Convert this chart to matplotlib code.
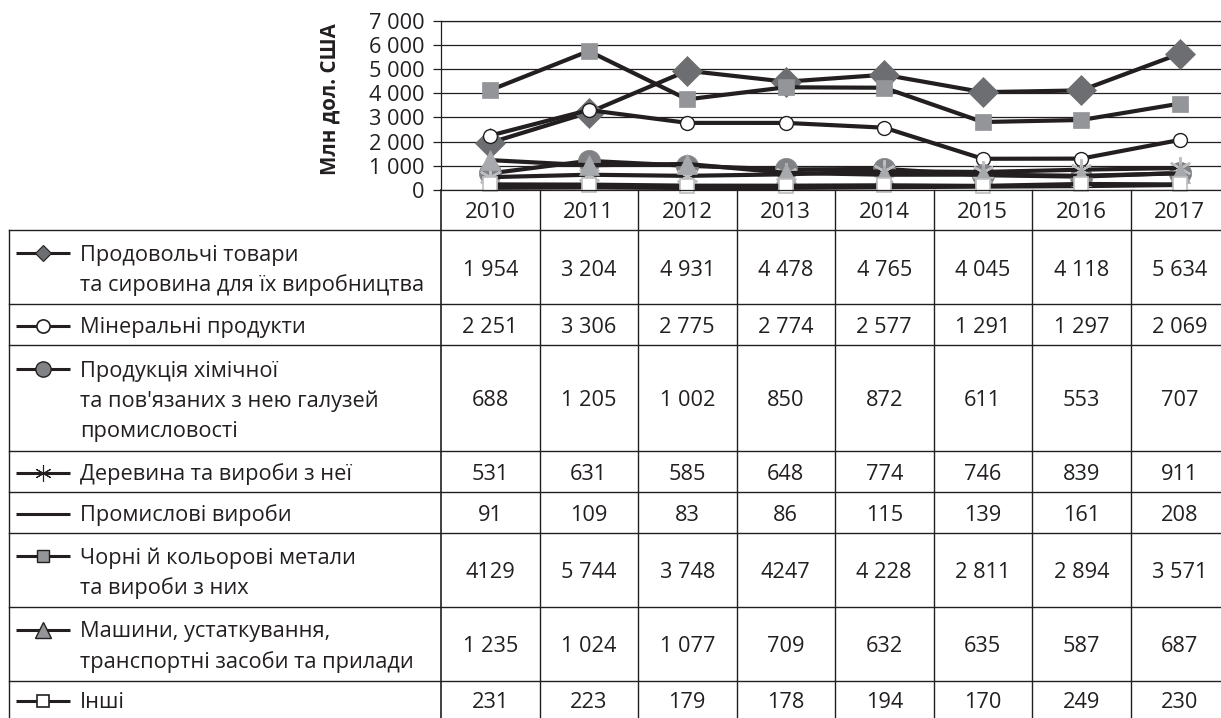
import matplotlib
matplotlib.use("Agg")
import matplotlib.pyplot as plt
from matplotlib.ticker import FuncFormatter

plt.rcParams['font.family'] = ['Open Sans', 'DejaVu Sans']

# ---------------- data ----------------
years = ["2010", "2011", "2012", "2013", "2014", "2015", "2016", "2017"]
categories = [
    "Продовольчі товари\nта сировина для їх виробництва",
    "Мінеральні продукти",
    "Продукція хімічної\nта пов'язаних з нею галузей\nпромисловості",
    "Деревина та вироби з неї",
    "Промислові вироби",
    "Чорні й кольорові метали\nта вироби з них",
    "Машини, устаткування,\nтранспортні засоби та прилади",
    "Інші",
]
food = [1954, 3204, 4931, 4478, 4765, 4045, 4118, 5634]
mineral = [2251, 3306, 2775, 2774, 2577, 1291, 1297, 2069]
chemical = [688, 1205, 1002, 850, 872, 611, 553, 707]
wood = [531, 631, 585, 648, 774, 746, 839, 911]
industrial = [91, 109, 83, 86, 115, 139, 161, 208]
metals = [4129, 5744, 3748, 4247, 4228, 2811, 2894, 3571]
machines = [1235, 1024, 1077, 709, 632, 635, 587, 687]
other = [231, 223, 179, 178, 194, 170, 249, 230]
yticks = [0, 1000, 2000, 3000, 4000, 5000, 6000, 7000]
y_label = "Млн дол. США"
# cells printed without thousands separator in the source table
no_sep_cells = {(5, 0), (5, 3)}

series = [food, mineral, chemical, wood, industrial, metals, machines, other]

# ---------------- styles ----------------
INK = '#231f20'
chart_styles = [
    dict(marker='D', ms=15, mfc='#6d6e71', mec='#6d6e71', mew=0.5),
    dict(marker='o', ms=10, mfc='white', mec=INK, mew=1.0),
    dict(marker='o', ms=16, mfc='#808285', mec='#808285', mew=0.5),
    dict(marker=(6, 2, 0), ms=16, mec='#bcbec0', mew=1.6),
    dict(marker=None),
    dict(marker='s', ms=11, mfc='#939598', mec='#939598', mew=0.5),
    dict(marker='^', ms=14, mfc='#a7a9ac', mec='#a7a9ac', mew=0.5),
    dict(marker='s', ms=10, mfc='white', mec='#bcbec0', mew=1.2),
]
legend_styles = [
    dict(marker='D', ms=8, mfc='#6d6e71', mec=INK, mew=0.8),
    dict(marker='o', ms=9.5, mfc='white', mec=INK, mew=1.2),
    dict(marker='o', ms=11, mfc='#808285', mec=INK, mew=1.0),
    dict(marker=(6, 2, 0), ms=12, mec=INK, mew=0.8),
    dict(marker=None),
    dict(marker='s', ms=9, mfc='#939598', mec=INK, mew=1.0),
    dict(marker='^', ms=11, mfc='#939598', mec=INK, mew=1.0),
    dict(marker='s', ms=9, mfc='white', mec=INK, mew=1.2),
]

W, H = 1221, 718
fig = plt.figure(figsize=(W / 100, H / 100), dpi=100)

# layout in pixels
ax_left, ax_top, ax_bot = 441, 20.7, 190
col_w = 98.5
hdr_bot = 230
row_edges = [230, 304, 345, 451, 492, 533, 607, 681, 718]
tab_left = 9
FS = 15.7
TEXT_DY = 3

# ---------------- chart ----------------
ax = fig.add_axes([ax_left / W, (H - ax_bot) / H, (col_w * 8) / W, (ax_bot - ax_top) / H])
x = list(range(len(years)))
for vals, st in zip(series, chart_styles):
    ax.plot(x, vals, color=INK, lw=3, solid_joinstyle='round', clip_on=False, **st)
ax.set_xlim(-0.5, 7.5)
ax.set_ylim(0, 7000)
ax.set_yticks(yticks)
ax.yaxis.set_major_formatter(FuncFormatter(lambda v, p: f"{int(v):,}".replace(",", " ")))
ax.set_xticks([])
ax.grid(axis='y', color=INK, lw=0.9)
ax.set_axisbelow(True)
ax.tick_params(axis='y', direction='out', length=6, width=0.9, color=INK,
               labelsize=FS, labelcolor=INK, pad=6)
for s in ['left', 'top', 'bottom']:
    ax.spines[s].set_color(INK)
    ax.spines[s].set_linewidth(0.9)
ax.spines['right'].set_visible(False)

# ---------------- table overlay (pixel coords) ----------------
t = fig.add_axes([0, 0, 1, 1])
t.set_xlim(0, W)
t.set_ylim(H, 0)
t.axis('off')
t.patch.set_visible(False)

lw_t = 1.0
col_edges = [ax_left + col_w * k for k in range(9)]
for k, xe in enumerate(col_edges):
    t.plot([xe, xe], [ax_bot, H], color=INK, lw=lw_t if k else 1.2)
t.plot([tab_left, tab_left], [hdr_bot, H], color=INK, lw=lw_t)
for ye in row_edges[:-1]:
    t.plot([tab_left, W], [ye, ye], color=INK, lw=lw_t)

# year header
for i, yr in enumerate(years):
    t.text(ax_left + col_w * (i + 0.5), (ax_bot + hdr_bot) / 2 + 2, yr, ha='center', va='center',
           fontsize=16, color=INK)

# y label
t.text(330, 99, y_label, rotation=90, ha='center', va='center', fontsize=14.8,
       fontweight='bold', color=INK)

line_gap = 30
for r, (cat, vals, lst) in enumerate(zip(categories, series, legend_styles)):
    top, bot = row_edges[r], row_edges[r + 1]
    yc = (top + bot) / 2
    lines = cat.split("\n")
    n = len(lines)
    ys = [yc + (j - (n - 1) / 2) * line_gap for j in range(n)]
    for j, (ln, yy) in enumerate(zip(lines, ys)):
        t.text(80, yy + TEXT_DY, ln, ha='left', va='center', fontsize=FS, color=INK)
    # legend key
    t.plot([16, 70], [ys[0] + 1, ys[0] + 1], color=INK, lw=2.2, solid_capstyle='butt')
    if lst.get('marker') is not None:
        t.plot([43], [ys[0] + 1], color=INK, lw=0, **lst)
    # values
    for i, v in enumerate(vals):
        s = str(v) if (r, i) in no_sep_cells else f"{v:,}".replace(",", " ")
        t.text(ax_left + col_w * (i + 0.5), yc + TEXT_DY, s, ha='center', va='center',
               fontsize=FS, color=INK)

fig.savefig("out.png", dpi=100)
